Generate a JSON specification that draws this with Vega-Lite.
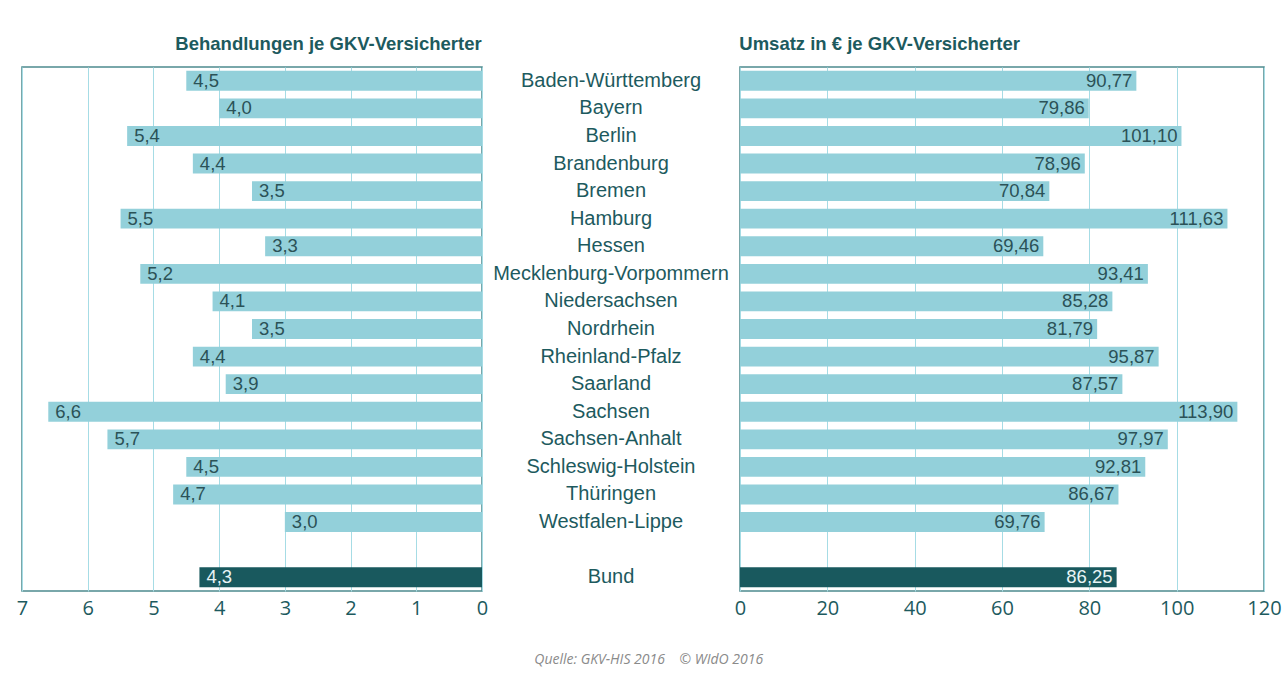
{
  "$schema": "https://vega.github.io/schema/vega-lite/v6.json",
  "background": "white",
  "padding": {"left": 15, "top": 33, "right": 5, "bottom": 5},
  "datasets": {
    "rows": [
      {"region": "Baden-Württemberg", "behandlungen": 4.5, "umsatz": 90.77},
      {"region": "Bayern", "behandlungen": 4.0, "umsatz": 79.86},
      {"region": "Berlin", "behandlungen": 5.4, "umsatz": 101.10},
      {"region": "Brandenburg", "behandlungen": 4.4, "umsatz": 78.96},
      {"region": "Bremen", "behandlungen": 3.5, "umsatz": 70.84},
      {"region": "Hamburg", "behandlungen": 5.5, "umsatz": 111.63},
      {"region": "Hessen", "behandlungen": 3.3, "umsatz": 69.46},
      {"region": "Mecklenburg-Vorpommern", "behandlungen": 5.2, "umsatz": 93.41},
      {"region": "Niedersachsen", "behandlungen": 4.1, "umsatz": 85.28},
      {"region": "Nordrhein", "behandlungen": 3.5, "umsatz": 81.79},
      {"region": "Rheinland-Pfalz", "behandlungen": 4.4, "umsatz": 95.87},
      {"region": "Saarland", "behandlungen": 3.9, "umsatz": 87.57},
      {"region": "Sachsen", "behandlungen": 6.6, "umsatz": 113.90},
      {"region": "Sachsen-Anhalt", "behandlungen": 5.7, "umsatz": 97.97},
      {"region": "Schleswig-Holstein", "behandlungen": 4.5, "umsatz": 92.81},
      {"region": "Thüringen", "behandlungen": 4.7, "umsatz": 86.67},
      {"region": "Westfalen-Lippe", "behandlungen": 3.0, "umsatz": 69.76},
      {"region": "Bund", "behandlungen": 4.3, "umsatz": 86.25}
    ]
  },
  "title": {
    "text": "Quelle: GKV-HIS 2016\u00a0\u00a0\u00a0\u00a0© WIdO 2016",
    "orient": "bottom",
    "anchor": "middle",
    "font": "Open Sans",
    "fontStyle": "italic",
    "fontWeight": "normal",
    "fontSize": 14,
    "color": "#8a8a8a",
    "offset": 34
  },
  "spacing": 0,
  "bounds": "flush",
  "hconcat": [
    {
      "width": 460,
      "height": 524,
      "data": {"name": "rows"},
      "title": {"text": "Behandlungen je GKV-Versicherter", "anchor": "end", "dx": -6},
      "encoding": {
        "y": {
          "field": "region",
          "type": "nominal",
          "axis": null,
          "scale": {
            "domain": ["Baden-Württemberg", "Bayern", "Berlin", "Brandenburg", "Bremen", "Hamburg", "Hessen", "Mecklenburg-Vorpommern", "Niedersachsen", "Nordrhein", "Rheinland-Pfalz", "Saarland", "Sachsen", "Sachsen-Anhalt", "Schleswig-Holstein", "Thüringen", "Westfalen-Lippe", "", "Bund"],
            "paddingInner": 0.28,
            "paddingOuter": 0.14
          }
        },
        "x": {
          "field": "behandlungen",
          "type": "quantitative",
          "scale": {"domain": [0, 7], "reverse": true, "nice": false},
          "axis": {"values": [0, 1, 2, 3, 4, 5, 6, 7], "title": null, "format": "d"}
        }
      },
      "layer": [
        {
          "mark": {"type": "bar"},
          "encoding": {
            "color": {
              "condition": {"test": "datum.region === 'Bund'", "value": "#19595e"},
              "value": "#93d0da"
            }
          }
        },
        {
          "mark": {"type": "text", "align": "left", "dx": 7, "fontSize": 18.5, "font": "Liberation Sans"},
          "encoding": {
            "text": {"field": "behandlungen", "type": "quantitative", "format": ".1f"},
            "color": {
              "condition": {"test": "datum.region === 'Bund'", "value": "#e8f4f5"},
              "value": "#2b5257"
            }
          }
        }
      ]
    },
    {
      "width": 258,
      "height": 524,
      "view": {"stroke": null},
      "data": {"name": "rows"},
      "mark": {"type": "text", "align": "center", "fontSize": 20, "font": "Liberation Sans", "color": "#1d5a5e"},
      "encoding": {
        "y": {
          "field": "region",
          "type": "nominal",
          "axis": null,
          "scale": {
            "domain": ["Baden-Württemberg", "Bayern", "Berlin", "Brandenburg", "Bremen", "Hamburg", "Hessen", "Mecklenburg-Vorpommern", "Niedersachsen", "Nordrhein", "Rheinland-Pfalz", "Saarland", "Sachsen", "Sachsen-Anhalt", "Schleswig-Holstein", "Thüringen", "Westfalen-Lippe", "", "Bund"],
            "paddingInner": 0.28,
            "paddingOuter": 0.14
          }
        },
        "text": {"field": "region", "type": "nominal"}
      }
    },
    {
      "width": 524,
      "height": 524,
      "data": {"name": "rows"},
      "title": {"text": "Umsatz in € je GKV-Versicherter", "anchor": "start", "dx": 5},
      "encoding": {
        "y": {
          "field": "region",
          "type": "nominal",
          "axis": null,
          "scale": {
            "domain": ["Baden-Württemberg", "Bayern", "Berlin", "Brandenburg", "Bremen", "Hamburg", "Hessen", "Mecklenburg-Vorpommern", "Niedersachsen", "Nordrhein", "Rheinland-Pfalz", "Saarland", "Sachsen", "Sachsen-Anhalt", "Schleswig-Holstein", "Thüringen", "Westfalen-Lippe", "", "Bund"],
            "paddingInner": 0.28,
            "paddingOuter": 0.14
          }
        },
        "x": {
          "field": "umsatz",
          "type": "quantitative",
          "scale": {"domain": [0, 120], "nice": false},
          "axis": {"values": [0, 20, 40, 60, 80, 100, 120], "title": null, "format": "d"}
        }
      },
      "layer": [
        {
          "mark": {"type": "bar"},
          "encoding": {
            "color": {
              "condition": {"test": "datum.region === 'Bund'", "value": "#19595e"},
              "value": "#93d0da"
            }
          }
        },
        {
          "mark": {"type": "text", "align": "right", "dx": -4, "fontSize": 18.5, "font": "Liberation Sans"},
          "encoding": {
            "text": {"field": "umsatz", "type": "quantitative", "format": ".2f"},
            "color": {
              "condition": {"test": "datum.region === 'Bund'", "value": "#e8f4f5"},
              "value": "#2b5257"
            }
          }
        }
      ]
    }
  ],
  "config": {
    "locale": {"number": {"decimal": ",", "thousands": ".", "grouping": [3], "currency": ["", " €"]}},
    "view": {"stroke": "#4d8b8f", "strokeWidth": 1.5},
    "title": {"font": "Liberation Sans", "fontSize": 18.5, "fontWeight": "bold", "color": "#1d5a5e", "offset": 14},
    "axis": {
      "grid": true,
      "gridColor": "#a6dce5",
      "gridWidth": 1,
      "domain": false,
      "ticks": false,
      "labelFlush": false,
      "labelFont": "Open Sans",
      "labelFontSize": 20,
      "labelColor": "#1d5a5e",
      "labelPadding": 7
    }
  }
}
